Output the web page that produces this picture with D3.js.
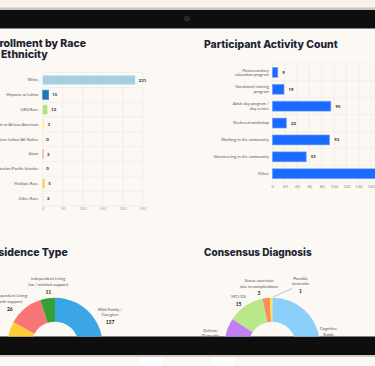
<!DOCTYPE html>
<html><head><meta charset="utf-8">
<script src="https://cdn.jsdelivr.net/npm/d3@7"></script>
<style>html,body{margin:0;padding:0;background:#fcf8f3;overflow:hidden}svg{display:block}</style>
</head><body><svg id="c" width="375" height="366"></svg>
<script>
// ---------- DATA ----------
const raceCats = ["White","Hispanic or Latino","URG Race","Black or African American","American Indian/AK Native","Asian","Native Hawaiian/Pacific Islander","Multiple Race","Other Race"];
const raceVals = [231,15,12,3,0,2,0,5,2];
const raceColors = ["#a6cee3","#1f78b4","#b2df8a","#ffe08a","#cab2d6","#fb9a99","#e0c3a0","#fdbf6f","#cfcfcf"];
const raceTicks = [0,50,100,150,200,250];

const actCats = ["Postsecondary\neducation program","Vocational training\nprogram","Adult day program /\nday center","Sheltered workshop","Working in the community","Volunteering in the community","Other"];
const actVals = [9,19,95,23,93,55,175];
const actTicks = [0,20,40,60,80,100,120,140,160,180];

const resCats = ["With Family /\nCaregiver","Group Home","Independent Living\n(with support)","Independent Living\n(no / minimal support)"];
const resVals = [137,45,26,11];
const resColors = ["#3aa6e6","#ffcd3c","#f97474","#35a035"];

const diagCats = ["Cognitive\nStable","Definite\nDementia","MCI-DS","Status uncertain\ndue to complications","Possible\ndementia"];
const diagVals = [88,14,15,3,1];
const diagColors = ["#8bd0fa","#c07ff3","#b9e88b","#fb8d62","#fde64c"];

// ---------- LAYOUT ----------
const W=375,H=366;
const svg=d3.select('#c');
const FONT="Lato, 'Open Sans', sans-serif";
const TFONT="Inter, 'Noto Sans', sans-serif";
const TITLE="#1d2433";
svg.append('defs').append('clipPath').attr('id','scr')
  .append('rect').attr('x',0).attr('y',28.5).attr('width',W).attr('height',308);
svg.append('rect').attr('width',W).attr('height',H).attr('fill','#fcf8f3');
// device frame
svg.append('rect').attr('x',0).attr('y',0).attr('width',W).attr('height',8).attr('fill','#f7f2ec');
svg.append('rect').attr('x',0).attr('y',7.5).attr('width',W).attr('height',2.5).attr('fill','#c9c5c0');
svg.append('rect').attr('x',0).attr('y',10).attr('width',W).attr('height',18.5).attr('fill','#0e0e0e');
svg.append('circle').attr('cx',187).attr('cy',18.5).attr('r',2.6).attr('fill','#262629').attr('stroke','#3c3c40').attr('stroke-width',0.6);
svg.append('rect').attr('x',0).attr('y',336.5).attr('width',W).attr('height',18.5).attr('fill','#0e0e0e');
svg.append('rect').attr('x',0).attr('y',355).attr('width',W).attr('height',2).attr('fill','#cfcbc6');
svg.append('rect').attr('x',140).attr('y',357).attr('width',23).attr('height',9).attr('fill','#ffffff');
svg.append('rect').attr('x',211.7).attr('y',357).attr('width',22.6).attr('height',9).attr('fill','#ffffff');

const g=svg.append('g').attr('clip-path','url(#scr)');

function title(lines, anchor, xs, y0, lh, len){
  lines.forEach((t,i)=>{
    const el=g.append('text').attr('x',xs[i]).attr('y',y0+i*lh).attr('text-anchor',anchor)
      .attr('font-family',TFONT).attr('font-weight',800).attr('font-size',10.5).attr('fill',TITLE).text(t);
    if(len&&len[i]) el.attr('textLength',len[i]).attr('lengthAdjust','spacingAndGlyphs');
  });
}
const GRID="#ebe6e0";

// ---------- Left bar chart ----------
title(["Enrollment by Race","and Ethnicity"],"end",[86,47.7],46.7,11.6);
const xL=d3.scaleLinear().domain([0,250]).range([42.7,142.7]);
const yL=d3.scaleBand().domain(raceCats).range([72.6,205.8]).paddingInner(0.37).paddingOuter(0.185);
raceTicks.forEach(t=>g.append('line').attr('x1',xL(t)).attr('x2',xL(t)).attr('y1',72.6).attr('y2',207.3).attr('stroke',GRID).attr('stroke-width',0.5));
d3.range(raceCats.length+1).forEach(i=>{const yy=yL.range()[0]+i*yL.step();
  g.append('line').attr('x1',42.7).attr('x2',142.7).attr('y1',yy).attr('y2',yy).attr('stroke',GRID).attr('stroke-width',0.5);});
const axL=g.append('g').attr('transform','translate(0,205.8)').call(d3.axisBottom(xL).tickValues(raceTicks).tickSize(0).tickPadding(1.8));
axL.select('.domain').remove();
axL.selectAll('text').attr('font-family',FONT).attr('font-size',4).attr('fill','#a8a4a0');
raceCats.forEach((c,i)=>{
  const v=raceVals[i], cy=yL(c)+yL.bandwidth()/2;
  if(v>0) g.append('rect').attr('x',xL(0)).attr('y',yL(c)).attr('width',xL(v)-xL(0)).attr('height',yL.bandwidth())
    .attr('fill',raceColors[i]).attr('stroke',d3.color(raceColors[i]).brighter(0.5)).attr('stroke-width',0.6);
  g.append('text').attr('x',38.3).attr('y',cy).attr('dy','0.35em').attr('text-anchor','end')
    .attr('font-family',FONT).attr('font-size',4).attr('fill','#5a5a5a').text(c);
  g.append('text').attr('x',xL(v)+3.6).attr('y',cy).attr('dy','0.35em')
    .attr('font-family',FONT).attr('font-weight',700).attr('font-size',4.4).attr('fill','#2a2a2a').text(v);
});

// ---------- Right bar chart ----------
title(["Participant Activity Count"],"start",[204],47.7,0,[133.7]);
const xR=d3.scaleLinear().domain([0,180]).range([272.3,383.3]);
const yR=d3.scaleBand().domain(actCats).range([63.9,182.2]).paddingInner(0.41).paddingOuter(0.205);
actTicks.forEach(t=>g.append('line').attr('x1',xR(t)).attr('x2',xR(t)).attr('y1',63.9).attr('y2',183.7).attr('stroke',GRID).attr('stroke-width',0.5));
d3.range(actCats.length+1).forEach(i=>{const yy=yR.range()[0]+i*yR.step();
  g.append('line').attr('x1',272.3).attr('x2',W).attr('y1',yy).attr('y2',yy).attr('stroke',GRID).attr('stroke-width',0.5);});
const axR=g.append('g').attr('transform','translate(0,182.2)').call(d3.axisBottom(xR).tickValues(actTicks).tickSize(0).tickPadding(2.6));
axR.select('.domain').remove();
axR.selectAll('text').attr('font-family',FONT).attr('font-size',4.2).attr('fill','#8f8b87');
actCats.forEach((c,i)=>{
  const v=actVals[i], cy=yR(c)+yR.bandwidth()/2;
  g.append('rect').attr('x',xR(0)).attr('y',yR(c)).attr('width',xR(v)-xR(0)).attr('height',yR.bandwidth())
    .attr('fill','#1a6bff').attr('stroke','#7eaaff').attr('stroke-width',0.6);
  const lines=c.split('\n');
  lines.forEach((t,k)=>g.append('text').attr('x',268.8).attr('y',cy+(k-(lines.length-1)/2)*4.4).attr('dy','0.35em')
    .attr('text-anchor','end').attr('font-family',FONT).attr('font-size',4.1).attr('fill','#5a5a5a').text(t));
  g.append('text').attr('x',xR(v)+4.5).attr('y',cy).attr('dy','0.35em')
    .attr('font-family',FONT).attr('font-weight',700).attr('font-size',4.4).attr('fill','#2a2a2a').text(v);
});

// ---------- Donuts ----------
const arc=d3.arc().innerRadius(23.6).outerRadius(47.6);
const pie=d3.pie().sort(null).value(d=>d);
function donut(cats,vals,colors,cx,cy,labelPos,lead){
  const gg=g.append('g').attr('transform',`translate(${cx},${cy})`);
  gg.selectAll('path').data(pie(vals)).join('path').attr('d',arc).attr('fill',(d,i)=>colors[i]);
  cats.forEach((c,i)=>{
    const p=labelPos[i]; const lines=c.split('\n');
    lines.forEach((t,k)=>g.append('text').attr('x',p[0]).attr('y',p[1]+k*5.5).attr('dy','0.35em').attr('text-anchor','middle')
      .attr('font-family',FONT).attr('font-size',4.1).attr('fill','#555').text(t));
    g.append('text').attr('x',p[0]).attr('y',p[1]+lines.length*5.5+1.8).attr('dy','0.35em').attr('text-anchor','middle')
      .attr('font-family',FONT).attr('font-weight',700).attr('font-size',5).attr('fill','#222').text(vals[i]);
  });
  if(lead) g.append('line').attr('x1',lead[0]).attr('y1',lead[1]).attr('x2',lead[2]).attr('y2',lead[3]).attr('stroke','#8a8a8a').attr('stroke-width',0.5);
}
title(["Residence Type"],"end",[67.7],255.5,0);
donut(resCats,resVals,resColors,55,345.3,[[110,309.3],[20,400],[9.8,296],[48.3,279]]);
title(["Consensus Diagnosis"],"start",[204],255.5,0,[107.7]);
donut(diagCats,diagVals,diagColors,272.3,345.3,[[328.5,329],[210.3,330.2],[238.6,296.7],[259,280.7],[300.5,278.3]],[273.2,297,292.3,288.4]);
</script></body></html>
